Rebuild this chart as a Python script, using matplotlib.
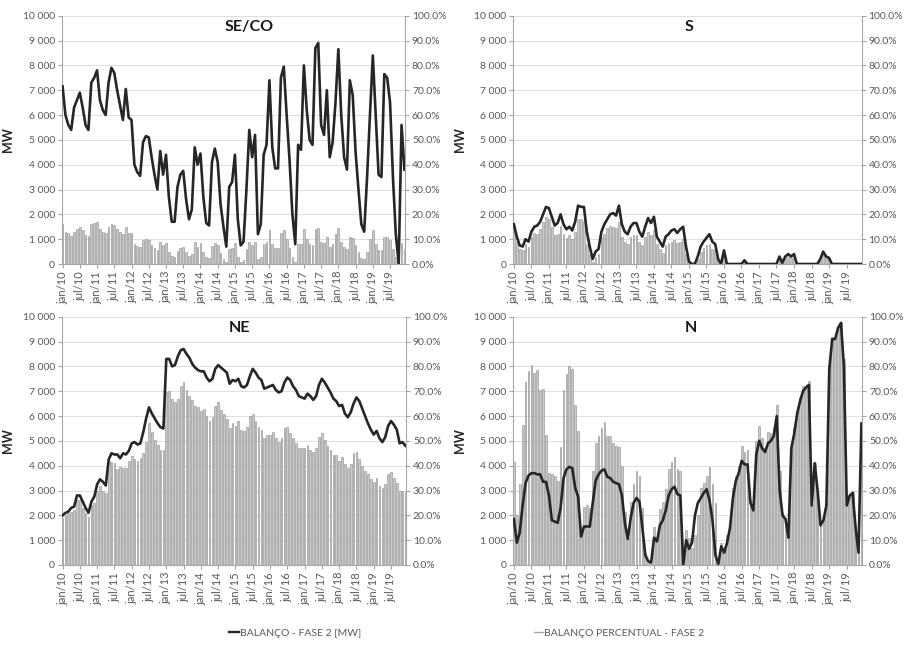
import matplotlib
matplotlib.use('Agg')
import matplotlib.pyplot as plt
from matplotlib.ticker import FuncFormatter, FixedLocator
from matplotlib.lines import Line2D

plt.rcParams['font.family'] = ['Lato', 'DejaVu Sans']

# ---------------- data (monthly, jan/2010 .. dec/2019) ----------------
tick_labels = ['jan/10', 'jul/10', 'jan/11', 'jul/11', 'jan/12', 'jul/12', 'jan/13', 'jul/13',
               'jan/14', 'jul/14', 'jan/15', 'jul/15', 'jan/16', 'jul/16', 'jan/17', 'jul/17',
               'jan/18', 'jul/18', 'jan/19', 'jul/19']

seco_mw = [7150, 6000, 5600, 5400, 6300, 6600, 6900, 6300, 5600, 5400,
           7300, 7500, 7800, 6600, 6200, 6000, 7300, 7900, 7700, 7000,
           6400, 5800, 7050, 5900, 5800, 4000, 3700, 3550, 4900, 5150,
           5100, 4300, 3600, 3000, 4550, 3600, 4400, 2700, 1700, 1700,
           3100, 3600, 3750, 2600, 1800, 2200, 4700, 4000, 4450, 2700,
           1650, 1550, 4100, 4650, 4100, 2400, 1500, 700, 3100, 3300,
           4400, 1800, 750, 900, 3000, 5400, 4300, 5200, 1200, 1600,
           4400, 4800, 7400, 4700, 3850, 3850, 7500, 7950, 6000, 4200,
           2000, 800, 4800, 4600, 8000, 6200, 5000, 4800, 8700, 8900,
           5600, 5200, 7000, 4300, 4900, 6500, 8650, 6000, 4300, 3800,
           7400, 6800, 4500, 3000, 1600, 1300, 3500, 6000, 8400, 6000,
           3600, 3500, 7650, 7500, 6500, 3500, 1200, 0, 5600, 3800]
seco_pct = [16.3, 13, 12.3, 11.2, 13, 13.9, 14.7, 13.6, 11.6, 11.2,
            16, 16.5, 17, 13.9, 13, 12.3, 14.7, 16, 15.6, 13.9,
            13, 11.9, 14.7, 12.5, 12.3, 7.9, 7.2, 6.9, 9.6, 9.9,
            9.6, 7.6, 6.3, 5.6, 8.9, 7.6, 8.5, 4.9, 3.2, 2.9,
            5.2, 6.3, 6.9, 4.9, 3.2, 4, 8.7, 6.9, 8.5, 4.7,
            2.9, 2.5, 7.3, 8.3, 7.6, 4.3, 2.1, 0.9, 5.9, 6.3,
            8.3, 3.0, 1.0, 1.5, 6, 9, 7.5, 9, 2, 3,
            8, 9, 13.5, 8, 6.5, 6.5, 12.5, 13.5, 10, 6.5,
            3, 1, 8, 8, 14, 10, 8, 7.5, 14, 14.5,
            9, 8.5, 11, 7, 8, 12, 14.5, 9, 7, 6,
            11, 10.5, 7.5, 5, 2.5, 2, 5, 10, 13.5, 8,
            5.5, 5.5, 11, 11, 9.5, 6, 3, 0, 8.5, 6]

s_mw = [1600, 1100, 750, 700, 1000, 900, 1300, 1500, 1550, 1700,
        2000, 2300, 2250, 1900, 1550, 1650, 2000, 1600, 1400, 1500,
        1350, 1700, 2350, 2300, 2300, 1300, 700, 200, 500, 600,
        1300, 1600, 1800, 2000, 2050, 1950, 2350, 1600, 1300, 1200,
        1500, 1650, 1650, 1300, 1100, 1500, 1850, 1650, 1900, 1100,
        900, 700, 1100, 1200, 1350, 1400, 1250, 1400, 1500, 700,
        100, 0, 0, 300, 700, 900, 1050, 1200, 900, 800,
        200, 0, 550, 0, 0, 0, 0, 0, 0, 150,
        0, 0, 0, 0, 0, 0, 0, 0, 0, 0,
        0, 300, 50, 300, 400, 300, 400, 0, 0, 0,
        0, 0, 0, 0, 0, 200, 500, 300, 250, 0,
        0, 0, 0, 0, 0, 0, 0, 0, 0, 0]
s_pct = [14, 9, 6, 5.5, 8, 7, 11, 12.5, 12, 14,
         17, 19, 18, 15, 11.5, 12, 15.5, 12, 10.5, 11.5,
         10, 13, 18, 18, 17.5, 8, 4, 1, 3, 4,
         11, 12, 14.5, 15.5, 15, 14.5, 17, 11, 9, 8,
         11, 11.5, 11.5, 9, 7.5, 11, 13, 11.5, 13.5, 8,
         6, 4.5, 7.5, 8.5, 9, 9.5, 8.5, 9, 10, 4,
         0.5, 0, 0, 2, 5, 6.5, 7.5, 8, 6, 5.5,
         1.5, 0, 4, 0, 0, 0, 0, 0, 0, 1,
         0, 0, 0, 0, 0, 0, 0, 0, 0, 0,
         0, 2, 0.5, 2.5, 3, 2.5, 3, 0, 0, 0,
         0, 0, 0, 0, 0, 1.5, 3.5, 2.5, 2, 0,
         0, 0, 0, 0, 0, 0, 0, 0, 0, 0]

ne_mw = [2000, 2100, 2150, 2300, 2350, 2800, 2800, 2550, 2300, 2100,
         2550, 2750, 3250, 3450, 3350, 3200, 4250, 4500, 4450, 4450,
         4300, 4500, 4450, 4600, 4900, 4950, 4850, 4900, 5350, 5900,
         6350, 6100, 5900, 5700, 5550, 5500, 8300, 8300, 8000, 8050,
         8400, 8650, 8700, 8500, 8350, 8100, 7950, 7850, 7800, 7800,
         7550, 7400, 7500, 7900, 8050, 7950, 7850, 7750, 7300, 7450,
         7400, 7500, 7200, 7150, 7250, 7600, 7900, 7750, 7550, 7450,
         7100, 7150, 7200, 7250, 7050, 6950, 7000, 7350, 7550, 7450,
         7200, 7050, 6800, 6750, 6700, 6900, 6800, 6650, 6800, 7250,
         7500, 7350, 7150, 6950, 6700, 6600, 6400, 6450, 6100, 5950,
         6150, 6500, 6750, 6600, 6300, 6000, 5700, 5450, 5250, 5400,
         5100, 4950, 5150, 5600, 5800, 5650, 5450, 4900, 4950, 4800]
ne_pct = [19, 20, 21, 21.5, 22, 26, 26, 23, 21, 19.5,
          24, 25, 30, 32, 30, 29, 42, 41.5, 41, 38.5,
          39.5, 39, 39, 42, 44, 42.5, 42, 43, 45, 49.5,
          57, 53.5, 50.5, 48.5, 46.5, 46.5, 69.5, 70, 67, 65.5,
          67, 72, 73.5, 70.5, 68, 66.5, 64, 63.5, 62, 63,
          60, 58, 59.5, 64, 65.5, 62.5, 61, 59, 55, 57,
          56, 58, 54.5, 54, 55.5, 60, 61, 58, 55.5, 54.5,
          51, 52.5, 52.5, 53.5, 51, 49.5, 51, 55, 55.5, 53,
          51, 49, 47, 47, 47, 48.5, 46.5, 45.5, 47, 51.5,
          53, 50.5, 48, 46.5, 44.5, 44.5, 42, 43.5, 40.5, 39,
          40.5, 45, 45.5, 42.5, 40, 38, 36.5, 34.5, 33.5, 35,
          32, 31, 32.5, 36.5, 37.5, 35, 33, 30, 30, 29.5]

n_mw = [1850, 900, 1300, 2400, 3300, 3600, 3700, 3700, 3650, 3650,
        3350, 3350, 2800, 1800, 1750, 1700, 2300, 3500, 3850, 3950,
        3900, 3100, 2750, 1150, 1550, 1550, 1550, 2500, 3400, 3650,
        3800, 3850, 3550, 3500, 3350, 3300, 3250, 2800, 1700, 1050,
        1900, 2500, 2700, 2550, 1500, 400, 150, 100, 1100, 950,
        1600, 1800, 2200, 2800, 3050, 3150, 2850, 2800, 0, 1000,
        650, 900, 2000, 2500, 2700, 2900, 3050, 2600, 1800, 400,
        50, 750, 500, 900, 1500, 2700, 3400, 3700, 4200, 4050,
        4050, 2500, 2200, 4450, 5000, 4700, 4550, 4900, 5000, 5200,
        6000, 3000, 2000, 1850, 1100, 4700, 5300, 6100, 6600, 7000,
        7150, 7250, 2400, 4100, 3000, 1600, 1800, 2400, 7900, 9100,
        9100, 9550, 9750, 8000, 2400, 2800, 2900, 1500, 500, 5700]
n_pct = [41.5, 20, 32.5, 56.5, 73.5, 78, 80.5, 77.5, 78.5, 70.5,
         71, 52.5, 37, 36.5, 36, 34, 47.5, 70.5, 77, 80,
         79, 64.5, 54, 13, 23.5, 24, 23, 38, 49, 52,
         55, 57.5, 52, 52, 49, 48, 47.5, 40, 21.5, 11,
         25.5, 32.5, 38, 36, 23, 5, 1, 1, 15.5, 11,
         22.5, 25.5, 30.5, 38.5, 41.5, 43.5, 38.5, 38, 0, 14,
         11, 7, 12, 20, 31, 33, 36, 39.5, 32.5, 25,
         3, 9, 6, 12, 17, 31, 36, 40, 48, 45.5,
         46.5, 26, 23, 50, 56, 51, 47, 53.5, 53, 55.5,
         64.5, 38, 21, 19, 12, 47, 55, 62, 67.5, 72,
         71.5, 74, 24, 41, 31, 17, 19, 25, 80, 92,
         91, 95.5, 98, 83, 25, 28, 30, 16, 6, 57]

# ---------------- figure ----------------
W, H = 906, 645
fig = plt.figure(figsize=(W / 100, H / 100), dpi=100)

GRID = '#d9d9d9'
SPINE = '#a6a6a6'
TXT = '#595959'
LINE = '#262626'
BAR_FC = '#c9c9c9'
BAR_EC = '#8c8c8c'


def px_rect(x0, x1, ytop, ybot):
    return [x0 / W, 1 - ybot / H, (x1 - x0) / W, (ybot - ytop) / H]


def panel(rect, title, tx, mw, pct, label_x):
    ax = fig.add_axes(rect)
    ax2 = ax.twinx()
    x = list(range(len(mw)))
    ax2.bar(x, pct, width=0.6, color=BAR_FC, edgecolor=BAR_EC, linewidth=0.4, zorder=2)
    ax.plot(x, mw, color=LINE, linewidth=1.9, zorder=3, solid_joinstyle='round')
    ax.set_zorder(ax2.get_zorder() + 1)
    ax.patch.set_visible(False)

    ax.set_xlim(-0.2, 119.2)
    ax.set_ylim(0, 10000)
    ax2.set_ylim(0, 100)

    ax2.yaxis.set_major_locator(FixedLocator([i * 10 for i in range(11)]))
    ax2.grid(axis='y', color=GRID, linewidth=0.6)
    ax2.set_axisbelow(True)
    ax.yaxis.set_major_locator(FixedLocator([i * 1000 for i in range(11)]))
    ax.yaxis.set_major_formatter(FuncFormatter(lambda v, p: f'{int(v):,}'.replace(',', ' ')))
    ax2.yaxis.set_major_formatter(FuncFormatter(lambda v, p: f'{v:.1f}%'))

    ax.set_xticks(list(range(0, 120, 6)))
    ax.set_xticklabels(tick_labels, rotation=90, fontsize=8, color=TXT)
    ax.tick_params(axis='x', length=3, color=SPINE, pad=2)
    ax.tick_params(axis='y', labelsize=7.5, labelcolor=TXT, length=3, color=SPINE, pad=2)
    ax2.tick_params(axis='y', labelsize=7.5, labelcolor=TXT, length=3, color=SPINE, pad=2)

    for a in (ax, ax2):
        a.spines['top'].set_visible(False)
    ax.spines['right'].set_visible(False)
    ax2.spines['left'].set_visible(False)
    ax2.spines['bottom'].set_visible(False)
    ax.spines['left'].set_color(SPINE)
    ax.spines['bottom'].set_color(SPINE)
    ax2.spines['right'].set_color(SPINE)

    ax.set_ylabel('MW', fontsize=9, fontweight='bold', color='#262626')
    ax.yaxis.set_label_coords(label_x, 0.5)
    ax.text(tx, 0.955, title, transform=ax.transAxes, ha='center', va='center',
            fontsize=11.5, fontweight='bold', color='#1a1a1a')
    return ax


panel(px_rect(62, 405, 15.7, 264), 'SE/CO', 0.545, seco_mw, seco_pct, -0.14)
panel(px_rect(513.3, 861.7, 15.7, 264), 'S', 0.504, s_mw, s_pct, -0.135)
panel(px_rect(62, 406, 316.7, 565), 'NE', 0.517, ne_mw, ne_pct, -0.14)
panel(px_rect(513.3, 862, 316.7, 565), 'N', 0.509, n_mw, n_pct, -0.135)

handles = [Line2D([], [], color=LINE, linewidth=1.7),
           Line2D([], [], color='#a6a6a6', linewidth=1.0)]
labels = ['BALANÇO - FASE 2 [MW]', 'BALANÇO PERCENTUAL - FASE 2']
fig.legend(handles, labels, loc='center', bbox_to_anchor=(467 / W, 1 - 633 / H), ncol=2,
           frameon=False, fontsize=7.5, handlelength=0.9, handletextpad=0.15,
           columnspacing=16.5, labelcolor=TXT)

fig.savefig('out.png', dpi=100)
